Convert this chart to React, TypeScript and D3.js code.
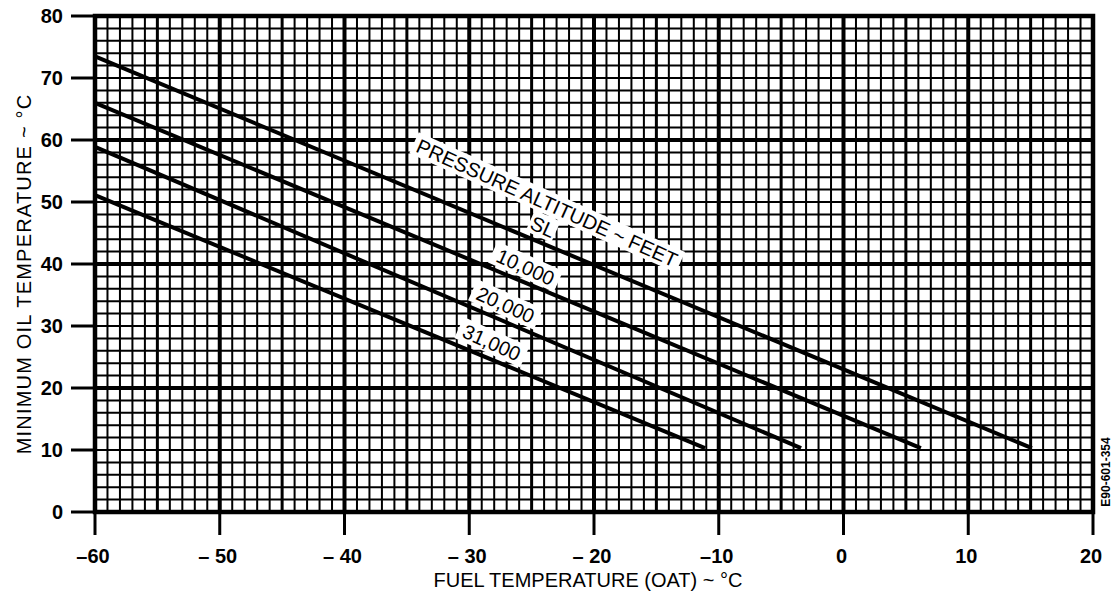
import React from 'react'
import * as d3 from 'd3'

// minimum oil temperature curves, one per pressure altitude
const altitudes = ['SL', '10,000', '20,000', '31,000']
const fuelTemps = [
  [-60, 15.1],
  [-60, 6.2],
  [-60, -3.4],
  [-60, -11.1],
]
const oilTemps = [
  [73.5, 10.3],
  [66.0, 10.3],
  [58.9, 10.3],
  [51.1, 10.3],
]

const xTicks = [-60, -50, -40, -30, -20, -10, 0, 10, 20]
const xTickLabels = ['\u201360', '\u2013 50', '\u2013 40', '\u2013 30', '\u2013 20', '\u201310', '0', '10', '20']
const yTicks = [0, 10, 20, 30, 40, 50, 60, 70, 80]

// label anchor points (data coords) for the curve labels
const labelX = [-24.1, -25.5, -27.1, -28.2]
const labelY = [46.0, 39.5, 33.4, 27.3]

const W = 1115
const H = 593
const font = '"Liberation Sans", Arial, Helvetica, sans-serif'

const App = () => {
  const x = d3.scaleLinear().domain([-60, 20]).range([95, 1093])
  const y = d3.scaleLinear().domain([0, 80]).range([512, 16])

  const vLines = d3.range(-60, 21, 1)
  const hLines = d3.range(0, 81, 2)

  const line = d3.line<[number, number]>()
    .x(d => x(d[0]))
    .y(d => y(d[1]))

  // slope of the curves in screen space, for rotated text
  const ang = Math.atan2(y(10.3) - y(73.5), x(15.1) - x(-60)) * 180 / Math.PI + 1.5

  return (
    <svg width={W} height={H} style={{ position: 'absolute', left: 0, top: 0, background: '#fff' }}>
      <rect x={0} y={0} width={W} height={H} fill="#fff" />
      {/* grid */}
      {vLines.map(v => (
        <line key={'v' + v} x1={x(v)} x2={x(v)} y1={y(0)} y2={y(80)}
          stroke="#000" strokeWidth={v % 10 === 0 ? 4 : v % 5 === 0 ? 3 : 2} />
      ))}
      {hLines.map(v => (
        <line key={'h' + v} x1={x(-60)} x2={x(20)} y1={y(v)} y2={y(v)}
          stroke="#000" strokeWidth={v % 20 === 0 ? 4 : 2} />
      ))}
      {/* frame */}
      <rect x={x(-60)} y={y(80)} width={x(20) - x(-60)} height={y(0) - y(80)}
        fill="none" stroke="#000" strokeWidth={4.5} />

      {/* ticks */}
      {yTicks.map(t => (
        <g key={'yt' + t}>
          <line x1={71} x2={x(-60)} y1={y(t)} y2={y(t)} stroke="#000" strokeWidth={3} />
          <text x={63} y={y(t) + 7} textAnchor="end" fontFamily={font} fontWeight="bold" fontSize={20}>{t}</text>
        </g>
      ))}
      {xTicks.map((t, i) => (
        <g key={'xt' + t}>
          <line x1={x(t)} x2={x(t)} y1={y(0)} y2={535} stroke="#000" strokeWidth={3} />
          <text x={x(t) - 2} y={563} textAnchor="middle" fontFamily={font} fontWeight="bold" fontSize={20}>{xTickLabels[i]}</text>
        </g>
      ))}

      {/* curves */}
      {altitudes.map((a, i) => (
        <path key={a} d={line([[fuelTemps[i][0], oilTemps[i][0]], [fuelTemps[i][1], oilTemps[i][1]]]) || ''}
          fill="none" stroke="#000" strokeWidth={4} />
      ))}

      {/* curve labels */}
      <g transform={`translate(${547},${203}) rotate(${ang})`}>
        <rect x={-146} y={-12} width={292} height={23} fill="#fff" />
        <text x={0} y={7} textAnchor="middle" fontFamily={font} fontSize={20} fontWeight="500">PRESSURE ALTITUDE ~ FEET</text>
      </g>
      {altitudes.map((a, i) => {
        const w = a.length * 11 + 6
        return (
          <g key={'l' + a} transform={`translate(${x(labelX[i])},${y(labelY[i])}) rotate(${ang})`}>
            <rect x={-w / 2} y={-12} width={w} height={23} fill="#fff" />
            <text x={0} y={7} textAnchor="middle" fontFamily={font} fontSize={20} fontWeight="500">{a}</text>
          </g>
        )
      })}

      {/* axis titles */}
      <text x={588} y={587} textAnchor="middle" fontFamily={font} fontSize={20} fontWeight="500">FUEL TEMPERATURE (OAT)  ~ °C</text>
      <text transform={`translate(31,${274}) rotate(-90)`} textAnchor="middle" fontFamily={font} fontSize={20}
        letterSpacing={1.2} fontWeight="500">MINIMUM OIL  TEMPERATURE ~ °C</text>

      <text transform={`translate(1110,${472}) rotate(-90)`} textAnchor="middle" fontFamily={font} fontSize={12}
        fontWeight="bold">E90-601-354</text>
    </svg>
  )
}

export default App
